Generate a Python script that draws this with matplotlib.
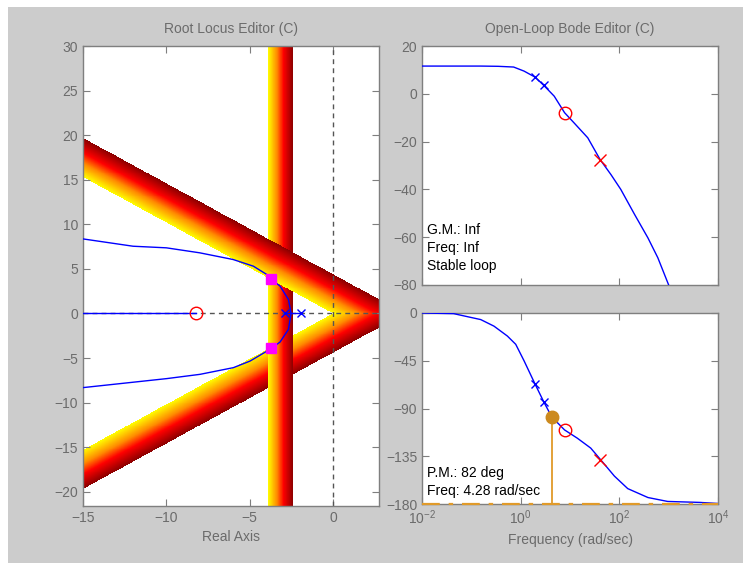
import numpy as np
import matplotlib
matplotlib.use("Agg")
import matplotlib.pyplot as plt
from matplotlib.colors import LinearSegmentedColormap
from matplotlib.patches import Rectangle

plt.rcParams['font.family'] = ['Liberation Sans', 'DejaVu Sans']
plt.rcParams['mathtext.fontset'] = 'custom'
plt.rcParams['mathtext.rm'] = 'Liberation Sans'
plt.rcParams['mathtext.default'] = 'regular'

# ---------------- data ----------------
# Root locus
rl_xlim = (-15, 2.75)
rl_ylim = (-21.6, 30)
rl_xticks = [-15, -10, -5, 0]
rl_yticks = [-20, -15, -10, -5, 0, 5, 10, 15, 20, 25, 30]

upper_branch_x = [-2.52, -2.68, -3.18, -3.72, -3.98, -4.78, -6.0, -8.0, -10.0, -12.0, -15.0]
upper_branch_y = [0.0, 1.57, 3.06, 3.85, 4.37, 5.30, 6.05, 6.80, 7.36, 7.54, 8.36]
lower_branch_x = [-2.52, -2.68, -3.18, -3.72, -4.98, -5.98, -7.98, -9.98, -15.0]
lower_branch_y = [0.0, -1.79, -3.2, -3.95, -5.34, -6.08, -6.83, -7.31, -8.32]
real_branch_x = [-15.0, -8.2]
pole_segment_x = [-2.9, -1.95]
comp_poles = [-2.9, -1.95]
comp_zero = [-8.2]
closed_loop_x = [-3.7, -3.7]
closed_loop_y = [3.85, -3.85]

# design constraint regions
damping_slope = 1.02
damping_band = 4.4
settling_band = (-3.9, -2.4)

# Bode magnitude
mag_freq = [0.01, 0.155, 0.35, 0.72, 1.17, 1.95, 2.95, 4.79, 7.76, 12.0, 22.9, 40.7,
            67.6, 107, 204, 380, 603, 1000]
mag_db = [11.6, 11.6, 11.5, 11.2, 9.5, 7.0, 3.5, -1.0, -7.9, -12.1, -18.4, -27.5,
          -33.8, -40.0, -50.5, -60.3, -68.6, -80.0]
# Bode phase
ph_freq = [0.01, 0.0437, 0.155, 0.288, 0.537, 0.794, 1.17, 1.95, 2.95, 4.28, 7.76,
           14.1, 26.3, 42.7, 79.4, 148, 380, 955, 4266, 10000]
ph_deg = [0, -0.6, -6.2, -12.4, -21.7, -29.5, -45, -66.8, -83.9, -98, -110.2,
          -118, -127.3, -138.8, -153.7, -165.5, -173.9, -177.6, -178.5, -179.5]

bode_comp_pole_f = [1.95, 2.95]
bode_comp_pole_mag = [7.0, 3.5]
bode_comp_pole_ph = [-66.8, -83.9]
bode_zero_f = [7.76]
bode_zero_mag = [-7.9]
bode_zero_ph = [-110.2]
bode_plant_pole_f = [41]
bode_plant_pole_mag = [-27.5]
bode_plant_pole_ph = [-138.5]

pm_freq = 4.28
pm_phase = -98
mag_yticks = [20, 0, -20, -40, -60, -80]
ph_yticks = [0, -45, -90, -135, -180]
freq_ticks = [1e-2, 1e0, 1e2, 1e4]

# ---------------- style ----------------
W, H = 743, 563
fig = plt.figure(figsize=(W / 100, H / 100), dpi=100)
fig.patch.set_facecolor('white')
fig.patches.append(Rectangle((8 / W, 0), 1, 1 - 7 / H, transform=fig.transFigure,
                             facecolor='#cccccc', edgecolor='none', zorder=-10))

def fr(l, r, t, b):
    return [l / W, 1 - b / H, (r - l) / W, (b - t) / H]

gray_txt = '#6b6b6b'
spine_c = '#7f7f7f'
FS = 10

def style(ax):
    ax.set_facecolor('white')
    for s in ax.spines.values():
        s.set_color(spine_c)
        s.set_linewidth(1.0)
    ax.tick_params(direction='in', top=True, right=True, length=5, color=spine_c,
                   labelcolor=gray_txt, labelsize=FS, which='major')
    ax.tick_params(which='minor', length=0)

ax1 = fig.add_axes(fr(83, 379, 46, 506))
ax2 = fig.add_axes(fr(422, 718, 46, 285))
ax3 = fig.add_axes(fr(422, 718, 313, 504))
for a in (ax1, ax2, ax3):
    style(a)

# ---------------- root locus ----------------
cmap = LinearSegmentedColormap.from_list('band', [(0, '#ffff00'), (0.35, '#ff8c00'),
                                                  (0.62, '#ff0000'), (1, '#8b0000')])
nx, ny = 1400, 1400
gx = np.linspace(rl_xlim[0], rl_xlim[1], nx)
gy = np.linspace(rl_ylim[0], rl_ylim[1], ny)
X, Y = np.meshgrid(gx, gy)
img = np.zeros((ny, nx, 4))

# lower damping band
t_low = (damping_slope * X - Y) / damping_band
m_low = (t_low >= 0) & (t_low <= 1) & (Y <= 0)
img[m_low] = cmap(t_low[m_low])
# settling-time band
t_v = (X - settling_band[0]) / (settling_band[1] - settling_band[0])
m_v = (t_v >= 0) & (t_v <= 1)
img[m_v] = cmap(t_v[m_v])
# upper damping band
t_up = (Y + damping_slope * X) / damping_band
m_up = (t_up >= 0) & (t_up <= 1) & (Y >= 0)
img[m_up] = cmap(t_up[m_up])

ax1.imshow(img, extent=(rl_xlim[0], rl_xlim[1], rl_ylim[0], rl_ylim[1]), origin='lower',
           aspect='auto', interpolation='nearest', zorder=1)

ax1.axhline(0, color='#555555', lw=1, ls=(0, (3.5, 3)), zorder=2)
ax1.axvline(0, color='#555555', lw=1, ls=(0, (3.5, 3)), zorder=2)

blue = '#0000ff'
ax1.plot(upper_branch_x, upper_branch_y, color=blue, lw=1, zorder=3)
ax1.plot(lower_branch_x, lower_branch_y, color=blue, lw=1, zorder=3)
ax1.plot(real_branch_x, [0, 0], color=blue, lw=1, zorder=3)
ax1.plot(pole_segment_x, [0, 0], color=blue, lw=1, zorder=3)
ax1.plot(comp_poles, [0] * len(comp_poles), ls='none', marker='x', ms=6, mew=1,
         color=blue, zorder=4)
ax1.plot(comp_zero, [0], ls='none', marker='o', ms=9, mfc='none', mec='#ff0000',
         mew=1, zorder=4)
ax1.plot(closed_loop_x, closed_loop_y, ls='none', marker='s', ms=7, color='#ff00ff',
         zorder=5)

ax1.set_xlim(rl_xlim)
ax1.set_ylim(rl_ylim)
ax1.set_xticks(rl_xticks)
ax1.set_yticks(rl_yticks)
ax1.set_title('Root Locus Editor (C)', color=gray_txt, fontsize=FS, pad=9)
ax1.set_xlabel('Real Axis', color=gray_txt, fontsize=FS, labelpad=4)

# ---------------- bode magnitude ----------------
ax2.semilogx(mag_freq, mag_db, color=blue, lw=1, zorder=3)
ax2.plot(bode_comp_pole_f, bode_comp_pole_mag, ls='none', marker='x', ms=6, mew=1,
         color=blue, zorder=4)
ax2.plot(bode_zero_f, bode_zero_mag, ls='none', marker='o', ms=9, mfc='none',
         mec='#ff0000', mew=1, zorder=4)
ax2.plot(bode_plant_pole_f, bode_plant_pole_mag, ls='none', marker='x', ms=9, mew=1,
         color='#ff0000', zorder=4)
ax2.set_xlim(1e-2, 1e4)
ax2.set_ylim(-80, 20)
ax2.set_yticks(mag_yticks)
ax2.set_xticks(freq_ticks)
ax2.set_xticklabels([])
ax2.xaxis.set_minor_locator(matplotlib.ticker.NullLocator())
ax2.set_title('Open-Loop Bode Editor (C)', color=gray_txt, fontsize=FS, pad=9)
for txt, yy in [('G.M.: Inf', 0.23), ('Freq: Inf', 0.155), ('Stable loop', 0.078)]:
    ax2.text(0.016, yy, txt, transform=ax2.transAxes, fontsize=FS, color='black',
             va='center', ha='left')

# ---------------- bode phase ----------------
pm_c = '#cc8a1e'
pm_line = '#e09a2a'
ax3.semilogx(ph_freq, ph_deg, color=blue, lw=1, zorder=3)
ax3.plot(bode_comp_pole_f, bode_comp_pole_ph, ls='none', marker='x', ms=6, mew=1,
         color=blue, zorder=4)
ax3.plot(bode_zero_f, bode_zero_ph, ls='none', marker='o', ms=9, mfc='none',
         mec='#ff0000', mew=1, zorder=4)
ax3.plot(bode_plant_pole_f, bode_plant_pole_ph, ls='none', marker='x', ms=9, mew=1,
         color='#ff0000', zorder=4)
ax3.axhline(-180, color=pm_line, lw=1.6, ls=(0, (8, 4, 2, 4)), zorder=6, clip_on=False)
ax3.plot([pm_freq, pm_freq], [pm_phase, -180], color=pm_line, lw=1.3, zorder=4)
ax3.plot([pm_freq], [pm_phase], ls='none', marker='o', ms=9, color=pm_c, zorder=5)
ax3.set_xlim(1e-2, 1e4)
ax3.set_ylim(-180, 0)
ax3.set_yticks(ph_yticks)
ax3.set_xticks(freq_ticks)
ax3.xaxis.set_minor_locator(matplotlib.ticker.NullLocator())
ax3.set_xlabel('Frequency (rad/sec)', color=gray_txt, fontsize=FS, labelpad=4)
for txt, yy in [('P.M.: 82 deg', 0.164), ('Freq: 4.28 rad/sec', 0.068)]:
    ax3.text(0.016, yy, txt, transform=ax3.transAxes, fontsize=FS, color='black',
             va='center', ha='left')

fig.savefig('out.png', dpi=100, facecolor=fig.get_facecolor())
